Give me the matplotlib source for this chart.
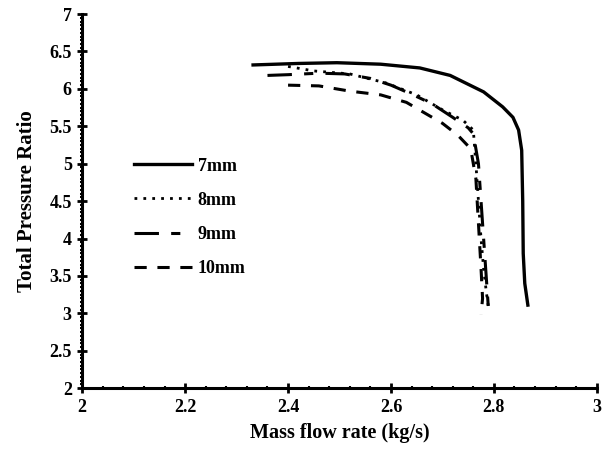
import matplotlib
matplotlib.use("Agg")
import matplotlib.pyplot as plt
from matplotlib.ticker import MultipleLocator

# curve data
flow_7mm = [2.332, 2.42, 2.495, 2.58, 2.656, 2.715, 2.78, 2.817, 2.837, 2.848, 2.854, 2.856, 2.857, 2.860, 2.866]
pr_7mm = [6.32, 6.34, 6.35, 6.33, 6.28, 6.18, 5.96, 5.76, 5.62, 5.45, 5.18, 4.50, 3.80, 3.40, 3.11]

flow_8mm = [2.40, 2.45, 2.52, 2.59, 2.65, 2.70, 2.74, 2.76, 2.765, 2.77, 2.775, 2.78, 2.785, 2.79]
pr_8mm = [6.30, 6.24, 6.20, 6.08, 5.92, 5.72, 5.58, 5.45, 5.00, 4.50, 4.00, 3.60, 3.30, 3.05]

flow_9mm = [2.36, 2.40, 2.46, 2.51, 2.56, 2.60, 2.64, 2.68, 2.72, 2.75, 2.76, 2.77, 2.775, 2.78, 2.785, 2.79]
pr_9mm = [6.18, 6.19, 6.21, 6.20, 6.14, 6.05, 5.93, 5.80, 5.62, 5.48, 5.40, 5.00, 4.50, 4.00, 3.50, 3.00]

flow_10mm = [2.40, 2.46, 2.52, 2.58, 2.63, 2.67, 2.70, 2.73, 2.755, 2.765, 2.77, 2.775, 2.778, 2.775]
pr_10mm = [6.05, 6.04, 5.97, 5.92, 5.82, 5.66, 5.54, 5.38, 5.20, 4.80, 4.20, 3.60, 3.20, 2.98]

plt.rcParams['font.family'] = ['Liberation Serif', 'DejaVu Serif']
plt.rcParams['font.weight'] = 'bold'

fig = plt.figure(figsize=(6.09, 4.54), dpi=100)
ax = fig.add_axes([0.135, 0.145, 0.845, 0.824])

ax.plot(flow_7mm, pr_7mm, color='black', lw=2.4, ls='-', label='7mm')
ax.plot(flow_8mm, pr_8mm, color='black', lw=2.0, ls=(0, (1, 2.2)), label='8mm')
ax.plot(flow_9mm, pr_9mm, color='black', lw=2.2, ls=(0, (8, 4, 3, 4)), label='9mm')
ax.plot(flow_10mm, pr_10mm, color='black', lw=2.2, ls=(0, (4, 3.5)), label='10mm')

ax.set_xlim(2, 3)
ax.set_ylim(2, 7)
ax.xaxis.set_major_locator(MultipleLocator(0.2))
ax.xaxis.set_minor_locator(MultipleLocator(0.04))
ax.yaxis.set_major_locator(MultipleLocator(0.5))
ax.yaxis.set_minor_locator(MultipleLocator(0.05))
ax.xaxis.set_major_formatter(plt.FuncFormatter(lambda v, p: f'{v:g}'))
ax.yaxis.set_major_formatter(plt.FuncFormatter(lambda v, p: f'{v:g}'))

for side in ['top', 'right']:
    ax.spines[side].set_visible(False)
for side in ['left', 'bottom']:
    ax.spines[side].set_linewidth(2.2)

ax.tick_params(which='major', direction='inout', length=7, width=2, labelsize=13, pad=4)
ax.tick_params(which='minor', direction='inout', length=3, width=1.5)

ax.set_xlabel('Mass flow rate (kg/s)', fontsize=14.5, fontweight='bold', labelpad=5)
ax.set_ylabel('Total Pressure Ratio', fontsize=15, fontweight='bold', labelpad=9)

ax.legend(loc='upper left', bbox_to_anchor=(0.07, 0.66), frameon=False,
          handlelength=3.2, labelspacing=0.95, prop={'size': 13, 'weight': 'bold'},
          handletextpad=0.3)

plt.savefig('out.png', dpi=100)
plt.close()
